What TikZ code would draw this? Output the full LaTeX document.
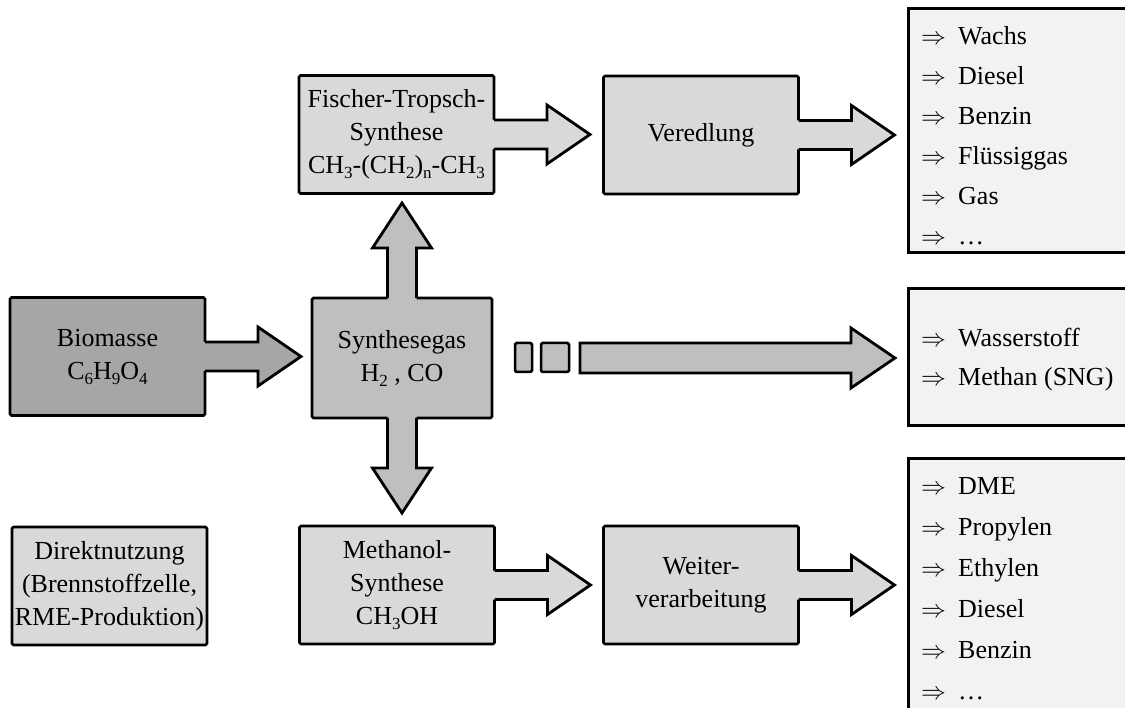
\documentclass[tikz,border=0pt]{standalone}
\usepackage{fontspec}
\setmainfont{Liberation Serif}
\usetikzlibrary{calc}

\definecolor{biogrey}{HTML}{A6A6A6}
\definecolor{gasgrey}{HTML}{BFBFBF}
\definecolor{stepgrey}{HTML}{D9D9D9}
\definecolor{prodgrey}{HTML}{F2F2F2}

\newcommand{\boxfont}{\fontsize{26}{33}\selectfont}
\newcommand{\ch}[1]{\raisebox{-5pt}{\fontsize{17}{17}\selectfont #1}}
\newcommand{\yields}{\makebox[37pt][l]{\fontsize{23}{23}\selectfont$\Rightarrow$}}
% arrow grown out of the right side of a box
\newcommand{\rightflow}[2]{%
  \fill[#2] ($(#1.east)+(-3,-14.5)$) -- ++(56,0) -- ++(0,-15)
    -- ++(43,29.5) -- ++(-43,29.5) -- ++(0,-15) -- ++(-56,0) -- cycle;
  \draw[flow] ($(#1.east)+(0,-14.5)$) -- ++(53,0) -- ++(0,-15)
    -- ++(43,29.5) -- ++(-43,29.5) -- ++(0,-15) -- ++(-53,0);}

\tikzset{
  stepbox/.style={draw, line width=2.8pt, rounded corners=1.5pt, outer sep=0pt,
    inner sep=0pt, align=center, font=\boxfont, minimum width=195pt,
    minimum height=118pt, fill=stepgrey},
  flow/.style={line width=2.8pt, line join=miter},
  prodbox/.style={draw, line width=3pt, fill=prodgrey, anchor=north west,
    inner sep=0pt, outer sep=0pt, minimum width=240pt},
  item/.style={anchor=base west, inner sep=0pt, font=\boxfont},
  gapbox/.style={draw, line width=2.5pt, fill=gasgrey, rounded corners=1.5pt},
}

\begin{document}
\begin{tikzpicture}[x=1pt,y=-1pt]
  \useasboundingbox (0,0) rectangle (1125,708);
  \clip (0,0) rectangle (1125,708);

  % process boxes
  \node[stepbox, fill=biogrey] (bio) at (107.5,356.5) {Biomasse\\C\ch{6}H\ch{9}O\ch{4}};
  \node[stepbox, fill=gasgrey, minimum width=180pt, minimum height=120pt] (syn) at (402,358)
    {Synthesegas\\H\ch{2} , CO};
  \node[stepbox] (ft) at (396.5,134.5) {Fischer-Tropsch-\\Synthese\\CH\ch{3}-(CH\ch{2})\ch{n}-CH\ch{3}};
  \node[stepbox] (ver) at (701,135) {Veredlung};
  \node[stepbox] (meth) at (397,585) {Methanol-\\Synthese\\CH\ch{3}OH};
  \node[stepbox] (weit) at (701,585) {Weiter-\\verarbeitung};
  \node[stepbox] (direct) at (109.5,586) {Direktnutzung\\(Brennstoffzelle,\\RME-Produktion)};

  % product boxes
  \node[prodbox, minimum height=244pt] (fuels) at (908,9) {};
  \node[prodbox, minimum height=137pt] (gases) at (908,289) {};
  \node[prodbox, minimum height=270pt] (chems) at (908,459) {};

  % fused arrows
  \rightflow{bio}{biogrey}
  \rightflow{ft}{stepgrey}
  \rightflow{ver}{stepgrey}
  \rightflow{meth}{stepgrey}
  \rightflow{weit}{stepgrey}
  \fill[gasgrey] ($(syn.north)+(-14.5,3)$) -- ++(0,-53) -- ++(-15,0)
    -- ++(29.5,-45) -- ++(29.5,45) -- ++(-15,0) -- ++(0,53) -- cycle;
  \draw[flow] ($(syn.north)+(-14.5,0)$) -- ++(0,-50) -- ++(-15,0)
    -- ++(29.5,-45) -- ++(29.5,45) -- ++(-15,0) -- ++(0,50);
  \fill[gasgrey] ($(syn.south)+(-14.5,-3)$) -- ++(0,53) -- ++(-15,0)
    -- ++(29.5,45) -- ++(29.5,-45) -- ++(-15,0) -- ++(0,-53) -- cycle;
  \draw[flow] ($(syn.south)+(-14.5,0)$) -- ++(0,50) -- ++(-15,0)
    -- ++(29.5,45) -- ++(29.5,-45) -- ++(-15,0) -- ++(0,-50);

  % interrupted arrow to the gases
  \draw[gapbox] (515,343) rectangle (532,372);
  \draw[gapbox] (541,343) rectangle (569,372);
  \coordinate (gasflow) at (580,357.5);
  \draw[flow, fill=gasgrey] ($(gasflow)+(0,-14.5)$) -- ++(271,0) -- ++(0,-15)
    -- ++(44,30) -- ++(-44,30) -- ++(0,-15) -- ++(-271,0) -- cycle;

  % product lists
  \foreach \t [count=\i from 0] in {Wachs, Diesel, Benzin, Flüssiggas, Gas, …}
    \node[item] (fuel\i) at (921,45+40*\i) {\yields\t};
  \foreach \t [count=\i from 0] in {Wasserstoff, Methan (SNG)}
    \node[item] (gas\i) at (921,347+39*\i) {\yields\t};
  \foreach \t [count=\i from 0] in {DME, Propylen, Ethylen, Diesel, Benzin, …}
    \node[item] (chem\i) at (921,494+41*\i) {\yields\t};
\end{tikzpicture}
\end{document}
